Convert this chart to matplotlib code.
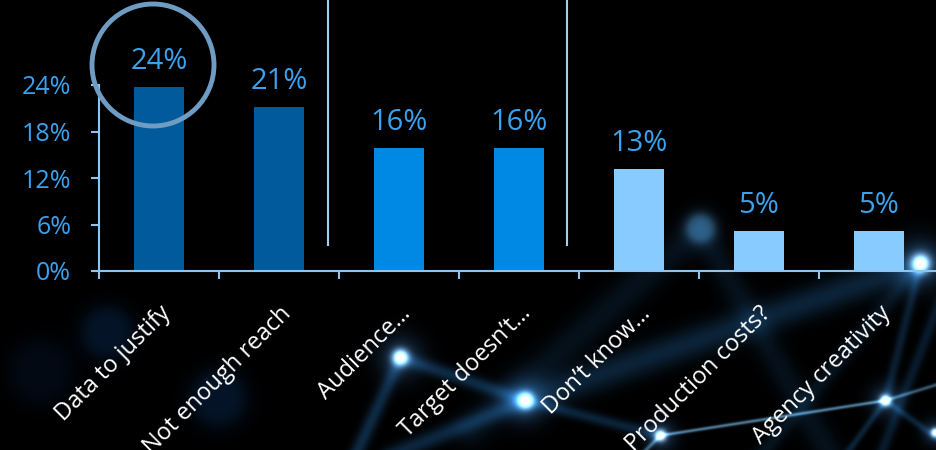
import numpy as np
import matplotlib.pyplot as plt
from matplotlib.patches import Circle
from matplotlib.ticker import FixedLocator, FuncFormatter

plt.rcParams['font.family'] = ['Open Sans', 'DejaVu Sans']

# chart values
categories = ['Data to justify', 'Not enough reach', 'Audience\u2026', 'Target doesn\u2019t\u2026',
              'Don\u2019t know\u2026', 'Production costs?', 'Agency creativity']
values = [23.7, 21.2, 15.9, 15.9, 13.2, 5.2, 5.2]
y_ticks = [0, 6, 12, 18, 24]

bar_colors = ['#005a9c', '#005a9c', '#0088e5', '#0088e5', '#88ccff', '#88ccff', '#88ccff']
label_blue = '#3aa2ee'
axis_blue = '#8cc4f2'

W, H = 937, 450
fig = plt.figure(figsize=(W / 100, H / 100), dpi=100, facecolor='black')

# glowing network backdrop
yy, xx = np.mgrid[0:H, 0:W].astype(float)
img = np.zeros((H, W, 3))

def seg_glow(x1, y1, x2, y2, sigma, amp, color):
    dx, dy = x2 - x1, y2 - y1
    t = ((xx - x1) * dx + (yy - y1) * dy) / (dx * dx + dy * dy)
    t = np.clip(t, 0, 1)
    d2 = (xx - x1 - t * dx) ** 2 + (yy - y1 - t * dy) ** 2
    img[:] += amp * np.exp(-d2 / (2 * sigma ** 2))[..., None] * np.array(color)

def dot_glow(x, y, sigma, amp, color):
    d2 = (xx - x) ** 2 + (yy - y) ** 2
    img[:] += amp * np.exp(-d2 / (2 * sigma ** 2))[..., None] * np.array(color)

def bokeh(x, y, r, amp, color):
    d = np.sqrt((xx - x) ** 2 + (yy - y) ** 2)
    img[:] += amp * (1 / (1 + (d / r) ** 6))[..., None] * np.array(color)

line_c = (0.10, 0.30, 0.48)
thin_c = (0.40, 0.62, 0.78)
A, B, C = (400, 357), (525, 400), (920, 263)
D, E, F = (700, 228), (885, 400), (660, 435)

seg_glow(*A, 355, 455, 5, 0.55, line_c)
seg_glow(*A, *B, 5, 0.55, line_c)
seg_glow(*B, *C, 11, 0.45, line_c)
seg_glow(*B, 390, 455, 6, 0.5, line_c)
seg_glow(*B, *F, 4, 0.45, line_c)
seg_glow(*F, *E, 1.2, 0.75, thin_c)
seg_glow(*E, 940, 383, 1.3, 0.55, thin_c)
seg_glow(*E, *C, 3.5, 0.4, line_c)
seg_glow(*E, 940, 440, 2.5, 0.45, line_c)
seg_glow(*E, 845, 455, 2.5, 0.45, line_c)
seg_glow(*F, 640, 455, 1.5, 0.55, thin_c)
seg_glow(*D, 470, 430, 12, 0.22, line_c)
seg_glow(*D, 830, 455, 10, 0.22, line_c)
seg_glow(*C, 760, 455, 6, 0.25, line_c)
seg_glow(940, 300, 880, 455, 4, 0.35, line_c)

for (x, y), core in [(A, 7), (B, 7), (C, 8), (E, 5), (F, 5), ((935, 432), 4)]:
    dot_glow(x, y, core * 2.2, 0.45, (0.2, 0.42, 0.65))
    dot_glow(x, y, core * 0.75, 1.2, (0.85, 0.95, 1.0))
bokeh(*D, 15, 0.55, (0.25, 0.45, 0.6))
bokeh(107, 332, 26, 0.45, (0.04, 0.17, 0.34))
bokeh(218, 398, 28, 0.45, (0.04, 0.17, 0.34))
bokeh(40, 372, 32, 0.22, (0.04, 0.17, 0.34))

bg = fig.add_axes([0, 0, 1, 1], zorder=0)
bg.imshow(np.clip(img, 0, 1), extent=[0, W, H, 0], aspect='auto')
bg.axis('off')

# bar chart
ax = fig.add_axes([99 / W, 1 - 271 / H, 840 / W, 186 / H], zorder=1)
ax.patch.set_alpha(0)
x = np.arange(len(categories))
ax.bar(x, values, width=0.41, color=bar_colors, zorder=2)
ax.set_xlim(-0.5, len(categories) - 0.5)
ax.set_ylim(0, 24)

for xi, v in zip(x, values):
    ax.annotate(f'{v:.0f}%', (xi, v), xytext=(0, 13), textcoords='offset points',
                ha='center', va='baseline', fontsize=21, color=label_blue)

for s in ['top', 'right']:
    ax.spines[s].set_visible(False)
for s in ['left', 'bottom']:
    ax.spines[s].set_color(axis_blue)
    ax.spines[s].set_linewidth(1.5)

ax.set_yticks(y_ticks)
ax.yaxis.set_major_formatter(FuncFormatter(lambda v, p: f'{v:.0f}%'))
ax.tick_params(axis='y', colors=axis_blue, labelcolor=label_blue, labelsize=18,
               length=6, width=1.5, pad=14)

ax.set_xticks(x)
ax.set_xticklabels(categories, rotation=45, ha='right', rotation_mode='anchor',
                   fontsize=17, color='white')
ax.tick_params(axis='x', which='major', length=0, pad=22)
ax.xaxis.set_minor_locator(FixedLocator(np.arange(-0.5, len(categories), 1.0)))
ax.tick_params(axis='x', which='minor', colors=axis_blue, length=6, width=1.5)

# group separators
for sx in [1.41, 3.40]:
    ax.plot([sx, sx], [3.35, 40], color='#9fd0f2', lw=1.5, clip_on=False, zorder=3)

# highlight ring
ring = Circle((153 / 100, (H - 65) / 100), 0.61, transform=fig.dpi_scale_trans,
              fill=False, ec='#6e9cc2', lw=3.5, zorder=5)
fig.patches.append(ring)

fig.savefig('out.png', dpi=100, facecolor='black')
